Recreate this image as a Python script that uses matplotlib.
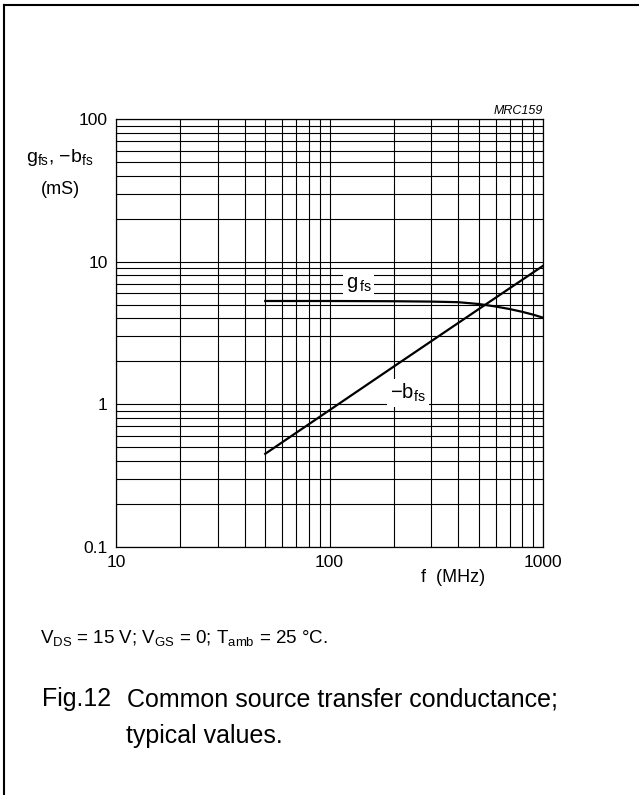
import numpy as np
import matplotlib.pyplot as plt
from matplotlib.lines import Line2D

plt.rcParams['font.family'] = ['Liberation Sans', 'DejaVu Sans']
plt.rcParams['mathtext.fontset'] = 'custom'
plt.rcParams['mathtext.rm'] = 'Liberation Sans'
plt.rcParams['mathtext.it'] = 'Liberation Sans:italic'

# curves
f_gfs = [50, 100, 200, 300, 400, 500, 600, 700, 800, 900, 1000]
gfs = [5.3, 5.3, 5.28, 5.25, 5.2, 5.05, 4.85, 4.65, 4.45, 4.25, 4.05]
f_bfs = [50, 100, 200, 500, 1000]
bfs = [0.45, 0.91, 1.84, 4.65, 9.35]

xticks = [10, 100, 1000]
xticklabels = ['10', '100', '1000']
yticks = [0.1, 1, 10, 100]
yticklabels = ['0.1', '1', '10', '100']

fig = plt.figure(figsize=(6.39, 7.95), dpi=100)
ax = fig.add_axes([116/639, 248/795, 427/639, 428/795])

ax.plot(f_gfs, gfs, color='black', lw=1.6, zorder=3)
ax.plot(f_bfs, bfs, color='black', lw=1.6, zorder=3)

ax.set_xscale('log')
ax.set_yscale('log')
ax.set_xlim(10, 1000)
ax.set_ylim(0.1, 100)
ax.set_xticks(xticks)
ax.set_xticklabels(xticklabels)
ax.set_yticks(yticks)
ax.set_yticklabels(yticklabels)
ax.grid(True, which='both', color='black', lw=0.8)
ax.tick_params(which='both', length=0, labelsize=12.5, pad=6)
for s in ax.spines.values():
    s.set_linewidth(0.9)

box = dict(facecolor='white', edgecolor='none', pad=2)
ax.text(137, 6.9, r'$\mathregular{g_{\,fs}}$', fontsize=14.5, ha='center', va='center', bbox=box, zorder=4)
ax.text(233, 1.2, r'$\mathregular{-b_{fs}}$', fontsize=14.5, ha='center', va='center', bbox=box, zorder=4)

ax.text(1.0, 1.005, 'MRC159', transform=ax.transAxes, ha='right', va='bottom',
        fontsize=9, style='italic')

fig.text(60/639, 1-158/795, r'$\mathregular{g_{fs}}$, $\mathregular{-b_{fs}}$', fontsize=14,
         ha='center', va='center')
fig.text(60/639, 1-190/795, '(mS)', fontsize=13, ha='center', va='center')
fig.text(453/639, 1-577/795, 'f  (MHz)', fontsize=13, ha='center', va='center')

fig.text(40/639, 1-638/795, r'$\mathregular{V_{DS}}$ = 15 V; $\mathregular{V_{GS}}$ = 0; $\mathregular{T_{amb}}$ = 25 °C.',
         fontsize=13.5, ha='left', va='center')
fig.text(42/639, 1-706/795, 'Fig.12', fontsize=18, ha='left', va='baseline')
fig.text(127/639, 1-706/795, 'Common source transfer conductance;', fontsize=18,
         ha='left', va='baseline')
fig.text(126/639, 1-743/795, 'typical values.', fontsize=18, ha='left', va='baseline')

# page frame: top and left edges only
fig.add_artist(Line2D([4/639, 1], [1-5/795, 1-5/795], color='black', lw=1.5, transform=fig.transFigure))
fig.add_artist(Line2D([4/639, 4/639], [0, 1-5/795], color='black', lw=1.5, transform=fig.transFigure))

fig.savefig('out.png', dpi=100)
